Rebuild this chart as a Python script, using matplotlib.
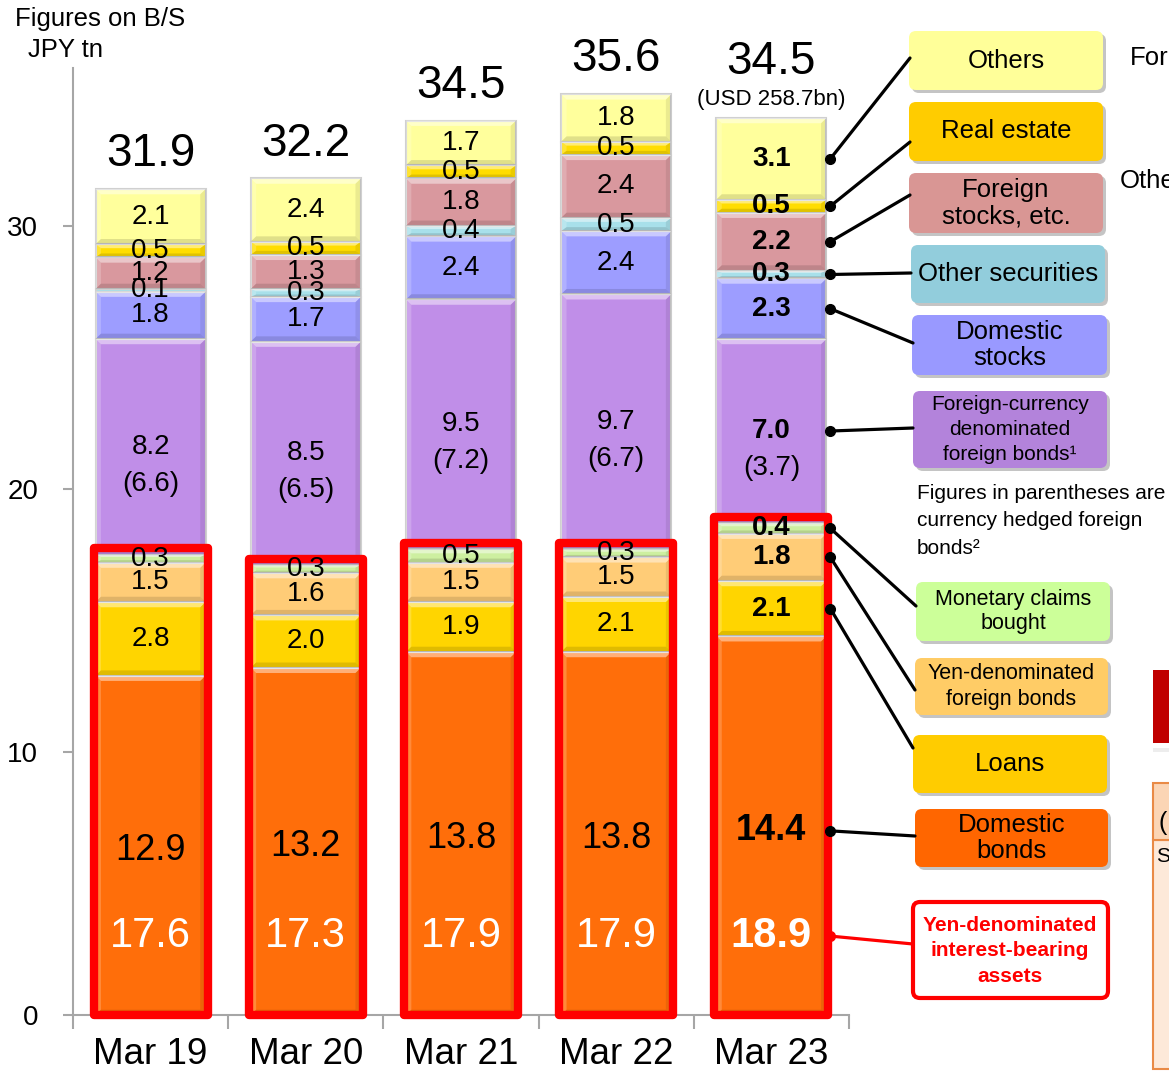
import numpy as np
import matplotlib.pyplot as plt
import matplotlib.transforms as mtransforms
from matplotlib.patches import Rectangle, FancyBboxPatch, ConnectionPatch, Polygon

plt.rcParams['font.family'] = ['Liberation Sans', 'DejaVu Sans']

periods = ['Mar 19', 'Mar 20', 'Mar 21', 'Mar 22', 'Mar 23']

# Asset breakdown in JPY tn, stacked from the bottom up
domestic_bonds = [12.9, 13.2, 13.8, 13.8, 14.4]
loans = [2.8, 2.0, 1.9, 2.1, 2.1]
yen_foreign_bonds = [1.5, 1.6, 1.5, 1.5, 1.8]
monetary_claims = [0.3, 0.3, 0.5, 0.3, 0.4]
fx_foreign_bonds = [8.2, 8.5, 9.5, 9.7, 7.0]
fx_hedged = [6.6, 6.5, 7.2, 6.7, 3.7]
domestic_stocks = [1.8, 1.7, 2.4, 2.4, 2.3]
other_securities = [0.1, 0.3, 0.4, 0.5, 0.3]
foreign_stocks = [1.2, 1.3, 1.8, 2.4, 2.2]
real_estate = [0.5, 0.5, 0.5, 0.5, 0.5]
others = [2.1, 2.4, 1.7, 1.8, 3.1]

totals = [31.9, 32.2, 34.5, 35.6, 34.5]
yen_interest_bearing = [17.6, 17.3, 17.9, 17.9, 18.9]
usd_total = '(USD 258.7bn)'

yticks = [0, 10, 20, 30]

# name, values, bar colour
segments = [
    ('dom_bonds', domestic_bonds, '#FF6E0A'),
    ('loans', loans, '#FFD500'),
    ('yen_fb', yen_foreign_bonds, '#FFCC77'),
    ('mon_claims', monetary_claims, '#CDEFA0'),
    ('fx_bonds', fx_foreign_bonds, '#C08EE8'),
    ('dom_stocks', domestic_stocks, '#9D9DFF'),
    ('other_sec', other_securities, '#A8E0EA'),
    ('for_stocks', foreign_stocks, '#D9989E'),
    ('real_estate', real_estate, '#FFDD00'),
    ('others', others, '#FFFF9C'),
]

# legend boxes on the right: key, text, face, (x0, y0, x1, y1) in pixels from top-left,
# font size, line spacing
legend_boxes = [
    ('others', 'Others', '#FFFF99', (909, 31, 1103, 90), 18.5, 1.1),
    ('real_estate', 'Real estate', '#FFCC00', (909, 102, 1103, 161), 18.5, 1.1),
    ('for_stocks', 'Foreign\nstocks, etc.', '#D99694', (909, 173, 1103, 233), 18.5, 1.12),
    ('other_sec', 'Other securities', '#92CDDC', (911, 245, 1105, 303), 18.5, 1.1),
    ('dom_stocks', 'Domestic\nstocks', '#9999FF', (912, 315, 1107, 375), 18.5, 1.12),
    ('fx_bonds', 'Foreign-currency\ndenominated\nforeign bonds\u00b9', '#B383DB',
     (913, 391, 1107, 468), 15, 1.42),
    ('mon_claims', 'Monetary claims\nbought', '#CCFF99', (916, 582, 1110, 641), 15.5, 1.2),
    ('yen_fb', 'Yen-denominated\nforeign bonds', '#FFCC66', (915, 658, 1108, 715), 15.5, 1.3),
    ('loans', 'Loans', '#FFCC00', (913, 735, 1107, 793), 18.5, 1.1),
    ('dom_bonds', 'Domestic\nbonds', '#FF6600', (915, 809, 1108, 867), 18.5, 1.1),
]
# where each connector meets its box (pixels)
box_anchor = {
    'others': (910, 58), 'real_estate': (910, 142), 'for_stocks': (910, 195),
    'other_sec': (911, 273), 'dom_stocks': (913, 343), 'fx_bonds': (913, 428),
    'mon_claims': (916, 606), 'yen_fb': (915, 690), 'loans': (913, 748),
    'dom_bonds': (915, 836),
}

W, H = 1169, 1073
fig = plt.figure(figsize=(W / 100, H / 100), dpi=100)
ax = fig.add_axes([73 / W, 1 - 1015 / H, (849 - 73) / W, (1015 - 68) / H])
# pixel coordinates measured from the top-left corner of the figure
px = mtransforms.Affine2D().scale(1 / W, -1 / H).translate(0, 1) + fig.transFigure


def bevel(x0, x1, y0, y1):
    # light top/left and shaded bottom/right edges for the raised-block look
    dx = 0.035
    dy = min(0.2, (y1 - y0) * 0.3)
    if y1 - y0 < 0.2:
        return
    ix0, ix1, iy0, iy1 = x0 + dx, x1 - dx, y0 + dy, y1 - dy
    faces = [
        ([(x0, y1), (x1, y1), (ix1, iy1), (ix0, iy1)], 'white', 0.45),
        ([(x0, y0), (x0, y1), (ix0, iy1), (ix0, iy0)], 'white', 0.2),
        ([(x1, y0), (x1, y1), (ix1, iy1), (ix1, iy0)], 'black', 0.08),
        ([(x0, y0), (x1, y0), (ix1, iy0), (ix0, iy0)], 'black', 0.12),
    ]
    for pts, c, a in faces:
        ax.add_patch(Polygon(pts, closed=True, fc=c, ec='none', alpha=a, zorder=2.5))


x = np.arange(len(periods))
width = 0.71
bottom = np.zeros(len(periods))
mids = {}
for name, vals, color in segments:
    vals = np.array(vals)
    ax.bar(x, vals, width, bottom=bottom, color=color, edgecolor='#D0D0D0',
           linewidth=1.5, zorder=2)
    for i in x:
        bevel(i - width / 2, i + width / 2, bottom[i], bottom[i] + vals[i])
    mids[name] = bottom + vals / 2
    bottom = bottom + vals
tops = bottom

# value labels inside the bars
last = len(periods) - 1
for name, vals, color in segments:
    for i in x:
        weight = 'bold' if i == last else 'normal'
        if name == 'dom_bonds':
            ax.text(i, mids[name][i] - 0.2, f'{vals[i]:.1f}', ha='center', va='center',
                    fontsize=26, fontweight=weight, zorder=5)
        elif name == 'fx_bonds':
            ax.text(i, mids[name][i], f'{vals[i]:.1f}', ha='center', va='center',
                    fontsize=20, fontweight=weight, zorder=5)
            ax.text(i, mids[name][i] - 1.4, f'({fx_hedged[i]:.1f})', ha='center',
                    va='center', fontsize=20, zorder=5)
        else:
            ax.text(i, mids[name][i], f'{vals[i]:.1f}', ha='center', va='center',
                    fontsize=20, fontweight=weight, zorder=5)

# yen-denominated interest-bearing assets: red frames and white totals
yen_stack = (np.array(domestic_bonds) + np.array(loans) + np.array(yen_foreign_bonds)
             + np.array(monetary_claims))
for i in x:
    ax.add_patch(Rectangle((i - 0.367, 0), 0.734, yen_stack[i] + 0.25, fill=False,
                           ec='#FF0000', lw=6, joinstyle='round', zorder=4, clip_on=False))
    ax.text(i, 3.0, f'{yen_interest_bearing[i]:.1f}', ha='center', va='center',
            fontsize=30, color='white', fontweight='bold' if i == last else 'normal', zorder=5)

# totals above the bars
for i in x:
    off = 32 if i == last else 16.5
    ax.annotate(f'{totals[i]:.1f}', (i, tops[i]), xytext=(0, off), textcoords='offset points',
                ha='center', va='baseline', fontsize=33, annotation_clip=False)
ax.annotate(usd_total, (last, tops[last]), xytext=(0, 9), textcoords='offset points',
            ha='center', va='baseline', fontsize=16, annotation_clip=False)

# axes styling
ax.set_xlim(-0.5, len(periods) - 0.5)
ax.set_ylim(0, 36)
ax.set_yticks(yticks)
ax.set_yticklabels([str(t) for t in yticks])
ax.set_xticks(x)
ax.set_xticklabels(periods)
ax.set_xticks(np.arange(-0.5, len(periods)), minor=True)
ax.tick_params(axis='x', which='major', length=0, pad=15.5, labelsize=26.5)
ax.tick_params(axis='x', which='minor', length=10, width=1.5, color='#A6A6A6', direction='out')
ax.tick_params(axis='y', length=7, width=1.5, color='#A6A6A6', pad=18, labelsize=20)
for side in ['top', 'right']:
    ax.spines[side].set_visible(False)
for side in ['left', 'bottom']:
    ax.spines[side].set_color('#A6A6A6')
    ax.spines[side].set_linewidth(1.5)

fig.text(15 / W, 1 - 19 / H, 'Figures on B/S', fontsize=18.5, va='center', ha='left')
fig.text(28 / W, 1 - 50 / H, 'JPY tn', fontsize=18.5, va='center', ha='left')


def draw_box(x0, y0, x1, y1, face, edge='none', lw=0, shadow=True):
    if shadow:
        fig.add_artist(FancyBboxPatch((x0 + 3, y0 + 3), x1 - x0, y1 - y0,
                                      boxstyle='round,pad=0,rounding_size=7',
                                      fc='#C4C4C4', ec='none', transform=px, zorder=1))
    fig.add_artist(FancyBboxPatch((x0, y0), x1 - x0, y1 - y0,
                                  boxstyle='round,pad=0,rounding_size=7',
                                  fc=face, ec=edge, lw=lw, transform=px, zorder=2))


dot_x = last + 0.38
for key, text, face, (x0, y0, x1, y1), fs, ls in legend_boxes:
    draw_box(x0, y0, x1, y1, face)
    fig.text(((x0 + x1) / 2) / W, 1 - ((y0 + y1) / 2) / H, text, ha='center', va='center',
             fontsize=fs, linespacing=ls, zorder=3)
    y = mids[key][last]
    if key == 'dom_bonds':
        y = y - 0.2
    con = ConnectionPatch(xyA=(dot_x, y), coordsA=ax.transData, xyB=box_anchor[key],
                          coordsB=px, color='black', lw=2.3, zorder=3)
    fig.add_artist(con)
    ax.plot([dot_x], [y], 'o', color='black', ms=7, clip_on=False, zorder=6)

# yen-denominated interest-bearing assets box
draw_box(913, 902, 1108, 998, 'white', edge='#FF0000', lw=3, shadow=False)
fig.text(1010 / W, 1 - 951 / H, 'Yen-denominated\ninterest-bearing\nassets', ha='center',
         va='center', fontsize=15, fontweight='bold', color='#FF0000', linespacing=1.45, zorder=3)
con = ConnectionPatch(xyA=(dot_x, 3.0), coordsA=ax.transData, xyB=(913, 944), coordsB=px,
                      color='#FF0000', lw=2.3, zorder=3)
fig.add_artist(con)
ax.plot([dot_x], [3.0], 'o', color='#FF0000', ms=7, clip_on=False, zorder=6)

fig.text(917 / W, 1 - 521 / H,
         'Figures in parentheses are\ncurrency hedged foreign\nbonds\u00b2',
         ha='left', va='center', fontsize=15, linespacing=1.55)

# neighbouring panel at the right edge
fig.text(1130 / W, 1 - 58 / H, 'For', fontsize=18.5, va='center', ha='left')
fig.text(1120 / W, 1 - 181 / H, 'Othe', fontsize=18.5, va='center', ha='left')
fig.add_artist(Rectangle((1153, 670), 20, 73, fc='#C00000', ec='none', transform=px))
fig.add_artist(Rectangle((1153, 748), 20, 4, fc='#EDEDED', ec='none', transform=px))
fig.add_artist(Rectangle((1153, 840), 20, 229, fc='#FDE9D9', ec='#E98A46', lw=1.5, transform=px))
fig.add_artist(Rectangle((1153, 783), 20, 57, fc='#FBD5B5', ec='#E98A46', lw=1.5, transform=px))
fig.text(1158 / W, 1 - 823 / H, '(', fontsize=18, va='center', ha='left')
fig.text(1156 / W, 1 - 856 / H, 'S', fontsize=15, va='center', ha='left')

fig.savefig('out.png', dpi=100)
